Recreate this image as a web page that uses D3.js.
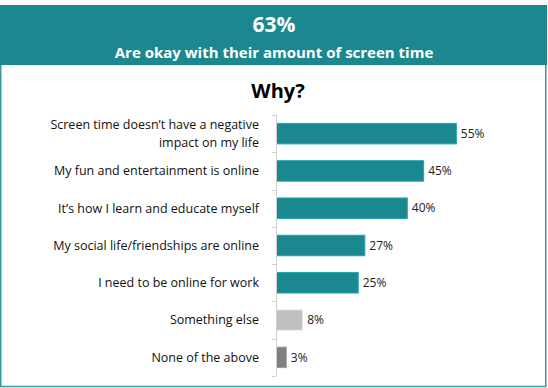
<!DOCTYPE html>
<html>
<head>
<meta charset="utf-8">
<script src="https://cdn.jsdelivr.net/npm/d3@7"></script>
<style>
  body { margin: 0; background: #fff; }
  svg { display: block; font-family: "Open Sans", "Liberation Sans", sans-serif; }
</style>
</head>
<body>
<div id="chart"></div>
<script>
// data
var headline = "63%";
var subtitle = "Are okay with their amount of screen time";
var question = "Why?";
var reasons = [
  "Screen time doesn\u2019t have a negative|impact on my life",
  "My fun and entertainment is online",
  "It\u2019s how I learn and educate myself",
  "My social life/friendships are online",
  "I need to be online for work",
  "Something else",
  "None of the above"
];
var shares = [55, 45, 40, 27, 25, 8, 3];
var barColors = ["#1b878e", "#1b878e", "#1b878e", "#1b878e", "#1b878e", "#c0c0c0", "#7f7f7f"];

var W = 548, H = 388;
var teal = "#1b878e";

var svg = d3.select("#chart").append("svg")
  .attr("width", W)
  .attr("height", H);

// outer frame
svg.append("rect")
  .attr("x", 0.75).attr("y", 60)
  .attr("width", W - 3).attr("height", H - 61.5)
  .attr("fill", "none")
  .attr("stroke", "#3a9aa0")
  .attr("stroke-width", 1.5);

// header band
svg.append("rect")
  .attr("x", 0).attr("y", 5)
  .attr("width", W - 1).attr("height", 60)
  .attr("fill", teal);

svg.append("text")
  .attr("x", 274).attr("y", 32)
  .attr("text-anchor", "middle")
  .attr("fill", "#fff")
  .style("font-size", "21px")
  .style("font-weight", "bold")
  .text(headline);

svg.append("text")
  .attr("x", 274).attr("y", 58)
  .attr("text-anchor", "middle")
  .attr("fill", "#fff")
  .style("font-size", "15px")
  .style("font-weight", "bold")
  .text(subtitle);

svg.append("text")
  .attr("x", 278).attr("y", 98)
  .attr("text-anchor", "middle")
  .attr("fill", "#000")
  .style("font-size", "20px")
  .style("font-weight", "bold")
  .text(question);

// plot area
var margin = {top: 115, left: 276},
    plotH = 261,
    pxPerPct = 3.27;

var x = d3.scaleLinear().domain([0, 100]).range([0, 100 * pxPerPct]);
var y = d3.scaleBand().domain(reasons).range([0, plotH]).paddingInner(0.45).paddingOuter(0.225);

var g = svg.append("g")
  .attr("transform", "translate(" + margin.left + "," + margin.top + ")");

// bars
g.selectAll(".bar")
  .data(reasons)
  .enter().append("rect")
    .attr("class", "bar")
    .attr("x", 0.5)
    .attr("y", function(d) { return y(d); })
    .attr("width", function(d, i) { return x(shares[i]); })
    .attr("height", y.bandwidth())
    .attr("fill", function(d, i) { return barColors[i]; })
    .attr("stroke", function(d, i) { return d3.color(barColors[i]).brighter(0.6); })
    .attr("stroke-width", 1);

// value labels
g.selectAll(".val")
  .data(reasons)
  .enter().append("text")
    .attr("class", "val")
    .attr("x", function(d, i) { return x(shares[i]) + 5; })
    .attr("y", function(d) { return y(d) + y.bandwidth() / 2; })
    .attr("dy", "0.35em")
    .attr("fill", "#222")
    .style("font-size", "12px")
    .text(function(d, i) { return shares[i] + "%"; });

// axis line with ticks at category boundaries
var step = plotH / reasons.length;
g.append("line")
  .attr("x1", 0.5).attr("x2", 0.5)
  .attr("y1", 0).attr("y2", plotH)
  .attr("stroke", "#d0d0d0");
g.selectAll(".tick")
  .data(d3.range(reasons.length + 1))
  .enter().append("line")
    .attr("class", "tick")
    .attr("x1", -4).attr("x2", 0.5)
    .attr("y1", function(d) { return Math.round(d * step) + 0.5; })
    .attr("y2", function(d) { return Math.round(d * step) + 0.5; })
    .attr("stroke", "#d0d0d0");

// category labels
var labels = g.selectAll(".cat")
  .data(reasons)
  .enter().append("text")
    .attr("class", "cat")
    .attr("x", -17)
    .attr("y", function(d) { return y(d) + y.bandwidth() / 2; })
    .attr("text-anchor", "end")
    .attr("fill", "#111")
    .style("font-size", "12.5px");

labels.each(function(d) {
  var parts = d.split("|");
  var t = d3.select(this);
  var lh = 1.4;
  var off = -(parts.length - 1) * lh / 2;
  parts.forEach(function(p, k) {
    t.append("tspan")
      .attr("x", -17)
      .attr("dy", (k === 0 ? off + 0.35 : lh) + "em")
      .text(p);
  });
});
</script>
</body>
</html>
